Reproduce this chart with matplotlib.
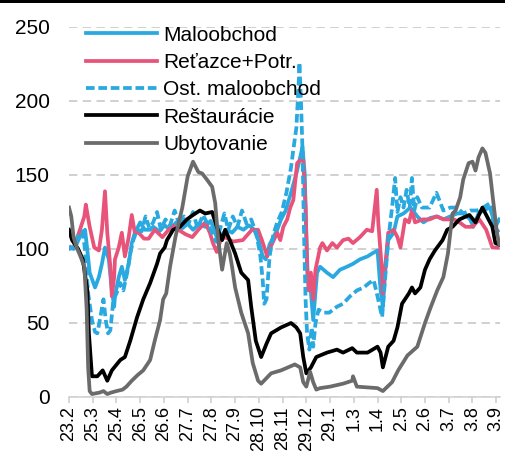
import pandas as pd
import matplotlib
matplotlib.use("Agg")
from matplotlib import pyplot as plt
from matplotlib.patches import Rectangle

plt.rcParams['font.family'] = ['Liberation Sans', 'DejaVu Sans']

start = pd.Timestamp("2020-02-23")
tick_dates = ["2020-02-23", "2020-03-25", "2020-04-25", "2020-05-26", "2020-06-26",
              "2020-07-27", "2020-08-27", "2020-09-27", "2020-10-28", "2020-11-28",
              "2020-12-29", "2021-01-29", "2021-03-01", "2021-04-01", "2021-05-02",
              "2021-06-02", "2021-07-03", "2021-08-03", "2021-09-03"]

# days since 23.2.2020, values (index)
malo_d = [0, 8, 14, 21, 24, 27, 34, 39, 43, 47, 52, 56, 59, 60, 65, 69, 73, 78, 82, 86,
          93, 99, 106, 110, 118, 125, 132, 140, 148, 155, 162, 170, 178, 185, 190, 195, 200, 206, 213, 220,
          228, 235, 242, 248, 253, 257, 262, 267, 272, 277, 283, 290, 297, 302, 305, 308, 310, 312, 315, 319,
          324, 328, 337, 345, 354, 363, 371, 380, 390, 396, 403, 407, 410, 413, 417, 424, 429, 437, 446, 455,
          463, 472, 481, 489, 498, 507, 515, 524, 528, 535, 541, 550, 557, 562]
malo_v = [100, 101, 108, 113, 99, 84, 74, 81, 90, 101, 93, 72, 61, 68, 81, 88, 79, 90, 104, 111,
          118, 113, 113, 115, 112, 116, 113, 118, 114, 117, 113, 117, 115, 119, 113, 104, 110, 113, 111, 115,
          113, 116, 113, 105, 95, 93, 103, 108, 113, 120, 126, 138, 151, 162, 169, 150, 111, 79, 77, 52,
          84, 88, 84, 81, 86, 88, 90, 93, 95, 97, 99, 72, 61, 84, 106, 111, 122, 124, 128, 122,
          118, 121, 122, 120, 122, 124, 124, 120, 115, 124, 126, 128, 115, 120]

ret_d = [0, 6, 13, 20, 22, 27, 33, 39, 43, 47, 50, 54, 56, 59, 60, 65, 69, 73, 78, 82,
         86, 91, 98, 104, 112, 122, 135, 143, 152, 161, 169, 178, 184, 188, 193, 198, 204, 214, 227, 239,
         247, 252, 259, 263, 272, 276, 280, 285, 289, 293, 298, 302, 306, 309, 311, 313, 316, 319, 322, 328,
         331, 337, 344, 350, 358, 365, 371, 380, 389, 396, 402, 404, 409, 410, 413, 417, 424, 429, 433, 439,
         444, 448, 452, 462, 471, 480, 490, 503, 510, 518, 527, 536, 545, 553, 560]
ret_v = [101, 101, 111, 122, 130, 115, 101, 99, 113, 139, 111, 88, 68, 81, 93, 101, 111, 95, 108, 123,
         111, 111, 107, 107, 113, 108, 116, 113, 110, 108, 113, 118, 111, 104, 98, 106, 108, 105, 106, 113,
         113, 106, 95, 101, 111, 106, 115, 120, 128, 133, 158, 160, 160, 128, 88, 72, 84, 66, 86, 101,
         104, 99, 104, 101, 106, 107, 104, 108, 113, 112, 140, 118, 84, 70, 88, 111, 113, 108, 101, 120,
         118, 126, 118, 120, 120, 122, 120, 120, 118, 115, 115, 120, 113, 101, 101]

ost_d = [0, 6, 13, 18, 21, 25, 30, 34, 37, 41, 45, 48, 51, 54, 58, 62, 67, 71, 76, 80,
         84, 89, 95, 100, 105, 110, 115, 120, 126, 132, 138, 145, 150, 156, 162, 168, 175, 182, 188, 192,
         197, 203, 208, 214, 220, 226, 232, 238, 245, 250, 253, 255, 258, 262, 267, 272, 278, 284, 290, 293,
         297, 300, 301, 303, 305, 307, 309, 311, 314, 317, 319, 322, 326, 333, 340, 350, 358, 367, 376, 385,
         392, 398, 403, 409, 412, 417, 422, 426, 429, 433, 437, 441, 445, 448, 451, 455, 461, 471, 480, 489,
         498, 507, 515, 524, 533, 541, 550, 557, 562]
ost_v = [102, 100, 110, 112, 99, 70, 52, 44, 43, 54, 66, 52, 43, 45, 66, 70, 77, 72, 84, 97,
         106, 113, 112, 122, 114, 118, 125, 113, 120, 116, 126, 115, 122, 117, 125, 114, 123, 116, 110, 105,
         113, 124, 113, 122, 115, 126, 117, 120, 110, 95, 79, 63, 66, 95, 110, 118, 125, 138, 155, 167,
         182, 212, 226, 200, 167, 111, 66, 43, 32, 47, 34, 50, 59, 57, 57, 61, 63, 68, 72, 74,
         77, 79, 68, 54, 74, 106, 128, 148, 125, 135, 128, 140, 128, 148, 126, 135, 128, 128, 138, 126,
         128, 128, 124, 126, 126, 128, 131, 111, 113]

res_d = [0, 4, 12, 18, 24, 26, 30, 37, 44, 50, 56, 67, 73, 80, 89, 97, 106, 115, 119, 125,
         128, 136, 145, 154, 162, 171, 178, 187, 193, 200, 204, 210, 217, 225, 234, 238, 244, 251, 258, 264,
         277, 290, 297, 302, 306, 310, 316, 323, 337, 350, 358, 370, 376, 390, 403, 407, 410, 417, 424, 429,
         435, 444, 448, 452, 459, 465, 471, 478, 488, 494, 501, 510, 523, 531, 540, 546, 553, 557, 562]
res_v = [113, 106, 100, 93, 72, 43, 14, 14, 18, 11, 18, 25, 27, 38, 54, 66, 77, 90, 97, 101,
         106, 113, 115, 120, 123, 126, 124, 125, 115, 106, 113, 106, 97, 84, 79, 61, 38, 27, 36, 43,
         47, 50, 47, 43, 27, 16, 20, 27, 30, 32, 30, 33, 30, 30, 34, 30, 20, 34, 38, 47,
         63, 70, 74, 70, 74, 86, 93, 99, 106, 113, 115, 120, 123, 118, 128, 122, 115, 104, 103]

uby_d = [0, 3, 6, 10, 15, 20, 23, 25, 27, 30, 40, 45, 50, 55, 62, 70, 75, 82, 90, 97,
         106, 112, 116, 119, 123, 127, 132, 139, 148, 155, 162, 169, 174, 180, 187, 191, 195, 200, 206, 210,
         213, 217, 225, 234, 240, 247, 251, 264, 277, 286, 295, 302, 306, 310, 315, 319, 323, 328, 341, 358,
         370, 371, 376, 403, 410, 422, 430, 442, 455, 465, 472, 481, 489, 495, 501, 505, 511, 515, 522, 527,
         531, 535, 540, 544, 550, 554, 559, 562]
uby_v = [128, 122, 108, 101, 95, 88, 60, 20, 4, 2, 3, 4, 2, 3, 4, 5, 7, 11, 15, 18,
         25, 38, 46, 52, 66, 70, 88, 108, 128, 149, 159, 152, 151, 147, 142, 131, 106, 86, 104, 97,
         88, 74, 57, 43, 23, 11, 9, 16, 18, 20, 22, 20, 10, 7, 17, 10, 5, 6, 7, 9,
         11, 14, 7, 6, 4, 10, 18, 28, 34, 50, 60, 72, 81, 97, 124, 126, 135, 147, 158, 159,
         153, 162, 168, 165, 151, 133, 111, 103]

blue = "#2aa9e0"
pink = "#e8537a"
gray = "#6b6b6b"

fig = plt.figure(figsize=(5.05, 4.51), dpi=100)
ax = fig.add_axes([69 / 505, 54 / 451, 431 / 505, 370 / 451])

lw = 2.7
ax.plot(malo_d, malo_v, color=blue, lw=lw, label="Maloobchod")
ax.plot(ret_d, ret_v, color=pink, lw=lw, label="Reťazce+Potr.")
ax.plot(ost_d, ost_v, color=blue, lw=lw, dashes=(2.3, 1.0), label="Ost. maloobchod")
ax.plot(res_d, res_v, color="black", lw=lw, label="Reštaurácie")
ax.plot(uby_d, uby_v, color=gray, lw=lw, label="Ubytovanie")

ax.set_xlim(0, 563)
ax.set_ylim(0, 250)
ax.set_yticks([0, 50, 100, 150, 200, 250])
tick_pos = [(pd.Timestamp(d) - start).days for d in tick_dates]
ax.set_xticks(tick_pos)
ax.set_xticklabels([f"{pd.Timestamp(d).day}.{pd.Timestamp(d).month}" for d in tick_dates],
                   rotation=90, fontsize=13)
ax.tick_params(axis='y', length=0, pad=14, labelsize=15)
ax.tick_params(axis='x', length=4.5, width=1.1, color="#cccccc", pad=2)
ax.yaxis.grid(True, color="#c4c4c4", lw=1.1, dashes=(5.5, 3.5))
ax.set_axisbelow(True)
for s in ["left", "right", "top"]:
    ax.spines[s].set_visible(False)
ax.spines["bottom"].set_color("#d0d0d0")
ax.spines["bottom"].set_linewidth(1.1)

ax.legend(loc="upper left", bbox_to_anchor=(0.039, 1.004), frameon=False, fontsize=15,
          borderpad=0, borderaxespad=0, handlelength=3.4, handletextpad=0.3,
          labelspacing=0.4)

fig.add_artist(Rectangle((0, 1 - 3 / 451), 1, 3 / 451, transform=fig.transFigure,
                         color="black", lw=0))

plt.savefig("out.png", dpi=100)
